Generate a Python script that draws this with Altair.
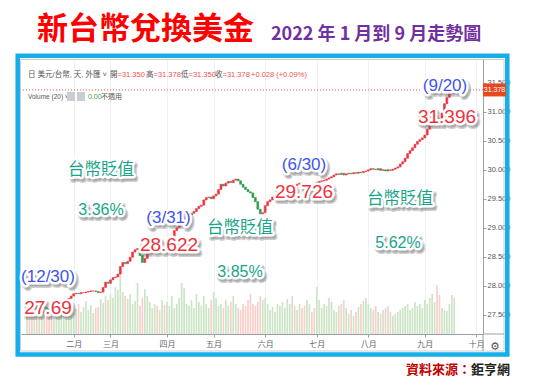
import altair as alt
import pandas as pd

# ---------------- data ----------------
MONTH_NAMES = ["二月", "三月", "四月", "五月", "六月", "七月", "八月", "九月", "十月"]
MONTH_START_IDX = [19, 34, 57, 76, 97, 118, 139, 162, 183]   # trading-day index of 1st bar

close_dec = [27.69]
close_jan = [27.66, 27.62, 27.63, 27.60, 27.62, 27.64, 27.62, 27.60, 27.57, 27.55,
             27.57, 27.61, 27.63, 27.67, 27.70, 27.76, 27.78, 27.82]
close_feb = [27.86, 27.87, 27.86, 27.88, 27.88, 27.89, 27.90, 27.91, 27.91, 27.90,
             27.88, 27.89, 27.97, 28.06, 28.04]
close_mar = [28.10, 28.14, 28.15, 28.20, 28.33, 28.40, 28.38, 28.42, 28.49, 28.58,
             28.62, 28.64, 28.52, 28.40, 28.47, 28.55, 28.60, 28.62, 28.64, 28.60,
             28.62, 28.65, 28.622]
close_apr = [28.70, 28.75, 28.80, 28.95, 29.00, 29.05, 29.10, 29.15, 29.20, 29.22,
             29.25, 29.28, 29.33, 29.37, 29.39, 29.48, 29.52, 29.53, 29.50]
close_may = [29.55, 29.58, 29.66, 29.75, 29.72, 29.77, 29.80, 29.78, 29.82, 29.84,
             29.81, 29.75, 29.70, 29.66, 29.62, 29.60, 29.52, 29.45, 29.32, 29.24, 29.26]
close_jun = [29.38, 29.45, 29.48, 29.53, 29.56, 29.58, 29.60, 29.64, 29.66, 29.70,
             29.72, 29.74, 29.73, 29.75, 29.77, 29.76, 29.72, 29.73, 29.75, 29.74, 29.726]
close_jul = [29.78, 29.80, 29.81, 29.82, 29.84, 29.86, 29.88, 29.91, 29.93, 29.92,
             29.94, 29.91, 29.93, 29.94, 29.93, 29.95, 29.94, 29.96, 29.95, 29.97, 29.98]
close_aug = [30.00, 30.02, 30.01, 30.00, 30.02, 29.99, 30.00, 29.98, 30.00, 29.99,
             30.01, 30.03, 30.05, 30.10, 30.14, 30.20, 30.28, 30.33, 30.38, 30.44,
             30.49, 30.52, 30.55]
close_sep = [30.60, 30.70, 30.76, 30.85, 30.92, 30.88, 30.84, 30.98, 31.14, 31.25,
             31.33, 31.35, 31.378]
FIRST_OPEN = 27.67

vol_dec = [22]
vol_jan = [20, 18, 24, 21, 19, 17, 23, 25, 20, 18, 22, 19, 21, 24, 18, 20, 22, 26]
vol_feb = [28, 25, 30, 22, 27, 33, 24, 29, 21, 26, 27, 35, 31, 38, 34]
vol_mar = [40, 36, 47, 44, 64, 42, 38, 35, 40, 30, 33, 51, 28, 36, 45, 38, 32, 26, 30, 28, 24, 34, 29]
vol_apr = [32, 28, 38, 26, 30, 36, 51, 46, 30, 28, 34, 26, 40, 32, 28, 38, 30, 26, 34]
vol_may = [42, 36, 28, 30, 26, 34, 28, 32, 38, 30, 26, 24, 30, 28, 34, 40, 30, 28, 32, 38, 34]
vol_jun = [36, 30, 24, 27, 22, 30, 28, 32, 26, 35, 30, 38, 28, 24, 30, 26, 28, 34, 30, 22, 26]
vol_jul = [47, 34, 26, 30, 28, 36, 32, 24, 22, 28, 30, 34, 26, 20, 24, 18, 22, 27, 30, 33, 36]
vol_aug = [30, 26, 24, 28, 22, 20, 24, 26, 28, 22, 18, 20, 22, 24, 26, 28, 30, 24, 26, 32, 28, 30, 26]
vol_sep = [34, 30, 36, 40, 32, 49, 39, 26, 24, 23, 30, 39, 36]

LAST_PRICE = 31.378
Y_TICKS = [27.5, 28.0, 28.5, 29.0, 29.5, 30.0, 30.5, 31.0, 31.5]

# ---------------- table ----------------
closes = (close_dec + close_jan + close_feb + close_mar + close_apr + close_may
          + close_jun + close_jul + close_aug + close_sep)
vols = (vol_dec + vol_jan + vol_feb + vol_mar + vol_apr + vol_may
        + vol_jun + vol_jul + vol_aug + vol_sep)
opens = [FIRST_OPEN] + closes[:-1]
df = pd.DataFrame({"i": list(range(len(closes))), "open": opens, "close": closes, "vol": vols})
one = pd.DataFrame({"a": [0]})

# ---------------- layout ----------------
W, H = 462, 275
X0, Y0 = 21, 59            # page position of plot origin
PD = [27.166, 31.912]      # price domain
XD = [-0.4, 183.67]
SANS = "Liberation Sans"
CJK = "Noto Sans CJK TC"
MIX = "Liberation Sans, Noto Sans CJK TC"
RED = "#F0323C"
GREEN = "#2E9B4A"
BLUE = "#3F55F0"
TEAL = "#17A589"

label_expr = " : ".join(f"datum.value == {v} ? '{n}'" for v, n in zip(MONTH_START_IDX, MONTH_NAMES)) + " : ''"
x_axis = alt.Axis(values=MONTH_START_IDX, labelExpr=label_expr, grid=True, gridColor="#EDF0F5",
                  tickSize=3, tickColor="#9aa0a6", domainColor="#9aa0a6", labelFont=CJK,
                  labelFontSize=8, labelColor="#666", labelPadding=3, labelFlush=False, title="")
X = alt.X("i:Q", scale=alt.Scale(domain=XD), axis=x_axis)
y_axis = alt.Axis(orient="right", values=Y_TICKS, format=".3f", labelFont=SANS, labelFontSize=7.5,
                  labelColor="#555", tickSize=3, tickColor="#9aa0a6", domainColor="#9aa0a6",
                  gridColor="#EEF1F6", labelPadding=1, title="")

up = alt.datum.close >= alt.datum.open

volume = alt.Chart(df).mark_bar(width=1.7).encode(
    x=X,
    y=alt.Y("vol:Q", scale=alt.Scale(domain=[0, H]), axis=None),
    color=alt.condition(up, alt.value("#CDE5C6"), alt.value("#F8CFCB")),
)

candles = alt.Chart(df).mark_bar(width=1.9, strokeWidth=0.6).encode(
    x=X,
    y=alt.Y("open:Q", scale=alt.Scale(domain=PD), axis=y_axis),
    y2="close:Q",
    color=alt.condition(up, alt.value(RED), alt.value(GREEN)),
    stroke=alt.condition(up, alt.value(RED), alt.value(GREEN)),
)

price_line = alt.Chart(one).mark_rule(color="#EF5350", strokeDash=[1, 2], strokeWidth=1).encode(
    y=alt.Y(datum=LAST_PRICE, scale=alt.Scale(domain=PD), axis=None)
)

py_last = (PD[1] - LAST_PRICE) / (PD[1] - PD[0]) * H


def rect(x1, y1, x2, y2, **kw):
    return alt.Chart(one).mark_rect(**kw).encode(
        x=alt.value(x1 - X0), x2=alt.value(x2 - X0), y=alt.value(y1 - Y0), y2=alt.value(y2 - Y0))


def txt(s, x, y, color, size, font=SANS, weight="normal", align="center", halo=False):
    kw = dict(text=s, font=font, fontSize=size, fontWeight=weight, align=align, baseline="middle")
    enc = dict(x=alt.value(x - X0), y=alt.value(y - Y0))
    out = []
    if halo:
        out.append(alt.Chart(one).mark_text(**kw, color="#666666", stroke="#666666", strokeWidth=6,
                                            strokeJoin="round", opacity=0.3, dx=2, dy=3).encode(**enc))
        out.append(alt.Chart(one).mark_text(**kw, color="#666666", stroke="#666666", strokeWidth=3,
                                            strokeJoin="round", opacity=0.35, dx=2, dy=3).encode(**enc))
        out.append(alt.Chart(one).mark_text(**kw, color="white", stroke="white", strokeWidth=5,
                                            strokeJoin="round").encode(**enc))
    out.append(alt.Chart(one).mark_text(**kw, color=color).encode(**enc))
    return out


layers = [volume, candles, price_line]

# frames
layers.append(rect(20.5, 59.5, 504, 351, fill="transparent", stroke="#C8CCD4", strokeWidth=1))
layers.append(rect(17.7, 55.7, 507.3, 354.5, fill="transparent", stroke="#16AEE9", strokeWidth=4.5))
layers.append(alt.Chart(one).mark_rule(color="#9aa0a6").encode(
    x=alt.value(W), y=alt.value(H), y2=alt.value(351 - Y0)))
layers.append(alt.Chart(one).mark_rule(color="#9aa0a6").encode(
    x=alt.value(W), x2=alt.value(504 - X0), y=alt.value(H)))

# price tag
layers.append(alt.Chart(one).mark_rect(color="#E4491F").encode(
    x=alt.value(W), x2=alt.value(W + 23), y=alt.value(py_last - 6.5), y2=alt.value(py_last + 6.5)))
layers.append(alt.Chart(one).mark_text(text=f"{LAST_PRICE:.3f}", font=SANS, fontSize=7,
                                       color="white", align="center", baseline="middle").encode(
    x=alt.value(W + 11.5), y=alt.value(py_last)))

# header texts
layers += txt("日 美元/台幣, 天, 外匯 ˅", 28, 75, "#555", 7.5, font=MIX, align="left")
for s, x, c in [("開", 110, "#555"), ("=31.350", 117.5, "#EF5350"), ("高", 146, "#555"),
                ("=31.378", 153.5, "#EF5350"), ("低", 181, "#555"), ("=31.350", 188.5, "#EF5350"),
                ("收", 215, "#555"), ("=31.378", 222.5, "#EF5350"), ("+0.028 (+0.09%)", 251, "#EF5350")]:
    layers += txt(s, x, 75, c, 7.5, font=MIX, align="left")
layers += txt("Volume (20) ˅", 28, 97, "#555", 6.5, align="left")
layers.append(rect(67, 92, 75, 101, color="#C9CDD4"))
layers.append(rect(77, 92, 85, 101, color="#C9CDD4"))
layers += txt("0.00", 88, 97, "#43A047", 7, align="left")
layers += txt("不適用", 101, 97, "#555", 7, font=CJK, align="left")
layers += txt("⚙", 495, 347, "#555", 11, font="DejaVu Sans")

# annotations
layers += txt("(12/30)", 48, 277, BLUE, 17, halo=True)
layers += txt("27.69", 48, 308, RED, 19, halo=True)
layers += txt("台幣貶值", 101, 170, TEAL, 16.5, font=CJK, halo=True)
layers += txt("3.36%", 101, 210, TEAL, 16, halo=True)
layers += txt("(3/31)", 168.5, 218, BLUE, 17, halo=True)
layers += txt("28.622", 169, 245, RED, 19, halo=True)
layers += txt("台幣貶值", 240, 228, TEAL, 16.5, font=CJK, halo=True)
layers += txt("3.85%", 240, 272, TEAL, 16, halo=True)
layers += txt("(6/30)", 304, 165, BLUE, 17, halo=True)
layers += txt("29.726", 304, 192, RED, 19, halo=True)
layers += txt("台幣貶值", 400, 199, TEAL, 16.5, font=CJK, halo=True)
layers += txt("5.62%", 398, 243, TEAL, 16, halo=True)
layers += txt("(9/20)", 445, 86, BLUE, 17, halo=True)
layers += txt("31.396", 447, 117, RED, 19, halo=True)

# titles and source
layers += txt("新台幣兌換美金", 37, 30, "#FF0000", 31, font=CJK, weight="bold", align="left")
layers += txt("2022 年 1 月到 9 月走勢圖", 271, 34.5, "#7030A0", 18, font=CJK, weight="bold", align="left")
layers += txt("資料來源：", 406, 370, "#C00000", 13, font=CJK, weight="bold", align="left")
layers += txt("鉅亨網", 471, 370, "#222222", 13, font=CJK, weight="bold", align="left")

chart = alt.layer(*layers).resolve_scale(y="independent").properties(
    width=W, height=H,
    autosize=alt.AutoSizeParams(type="none"),
    padding={"left": X0 - 8, "top": Y0 - 8, "right": 522 - (X0 - 8) - W, "bottom": 369 - (Y0 - 8) - H},
    background="white",
).configure_view(strokeWidth=0)

chart.save("out.html", embed_options={"renderer": "svg", "actions": False})
